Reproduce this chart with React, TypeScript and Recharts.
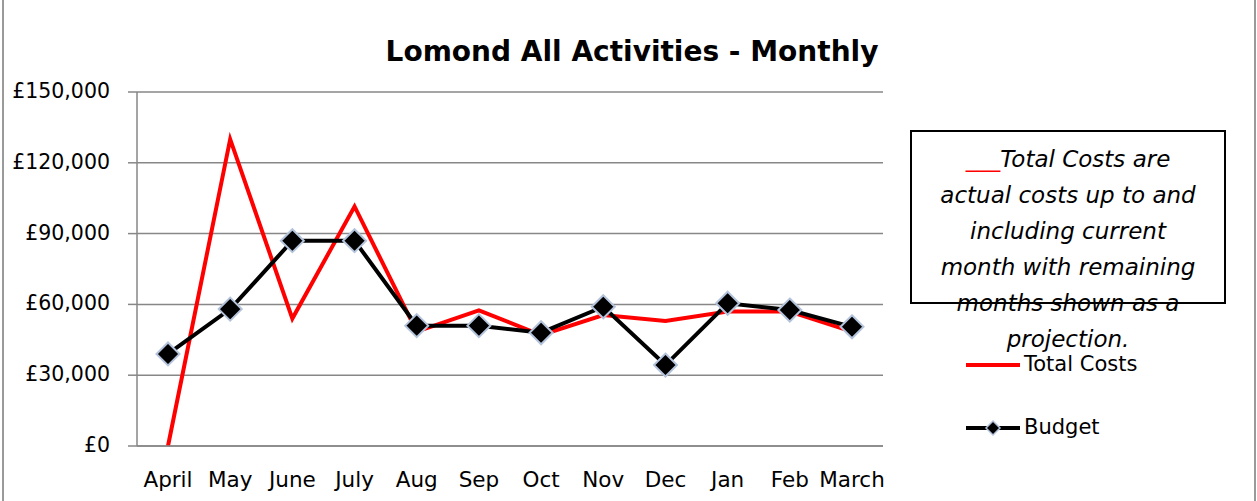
import React from 'react';
import { LineChart, Line, XAxis, YAxis, CartesianGrid } from 'recharts';

const months = ['April', 'May', 'June', 'July', 'Aug', 'Sep', 'Oct', 'Nov', 'Dec', 'Jan', 'Feb', 'March'];
const totalCosts = [0, 130000, 54000, 101500, 48500, 57500, 47000, 55500, 53000, 57000, 57000, 48500];
const budget = [39000, 58000, 87000, 87000, 51000, 51000, 48000, 59000, 34300, 60500, 57600, 50500];
const yTicks = [0, 30000, 60000, 90000, 120000, 150000];

const noteLines = [
    'actual costs up to and',
    'including current',
    'month with remaining',
    'months shown as a',
    'projection.',
];

const data = months.map((m, i) => ({ month: m, total: totalCosts[i], budget: budget[i] }));

const FONT = '"DejaVu Sans", sans-serif';
const GRID = '#878787';

const Diamond = (props: any) => {
    const { cx, cy } = props;
    if (cx == null || cy == null) return null;
    const r = 11.5;
    return (
        <polygon
            points={`${cx},${cy - r} ${cx + r},${cy} ${cx},${cy + r} ${cx - r},${cy}`}
            fill="#000"
            stroke="#b4c3dc"
            strokeWidth={2}
        />
    );
};

const XTick = ({ x, y, payload }: any) => (
    <text x={x} y={y + 27} textAnchor="middle" dominantBaseline="middle" fontSize={21.5} fontFamily={FONT} fill="#000">
        {payload.value}
    </text>
);

const YTick = ({ y, payload }: any) => (
    <text x={110} y={y} textAnchor="end" dominantBaseline="middle" fontSize={20.5} fontFamily={FONT} fill="#000">
        £{payload.value.toLocaleString('en-GB')}
    </text>
);

// legend drawn by hand, beside the plot
const SeriesKey = () => (
    <div style={{ position: 'absolute', left: 966, top: 0, fontFamily: FONT, fontSize: 21, color: '#000' }}>
        <div style={{ position: 'absolute', left: 0, top: 350, display: 'flex', alignItems: 'center', whiteSpace: 'nowrap' }}>
            <svg width={58} height={30}>
                <line x1={0} y1={15} x2={54} y2={15} stroke="#ff0000" strokeWidth={4} />
            </svg>
            <span style={{ marginTop: -2 }}>Total Costs</span>
        </div>
        <div style={{ position: 'absolute', left: 0, top: 413, display: 'flex', alignItems: 'center', whiteSpace: 'nowrap' }}>
            <svg width={58} height={30}>
                <line x1={0} y1={15} x2={54} y2={15} stroke="#000" strokeWidth={4} />
                <polygon points="27,8 34,15 27,22 20,15" fill="#000" stroke="#b4c3dc" strokeWidth={1.5} />
            </svg>
            <span style={{ marginTop: -2 }}>Budget</span>
        </div>
    </div>
);

export default function App() {
    return (
        <div style={{ position: 'absolute', left: 0, top: 0, width: 1257, height: 501, background: '#fff', overflow: 'hidden' }}>
            <div style={{ position: 'absolute', left: 2, top: 0, width: 2, height: 501, background: '#9a9a9a' }} />
            <div style={{ position: 'absolute', left: 1254, top: 0, width: 2, height: 501, background: '#9a9a9a' }} />
            <div
                style={{
                    position: 'absolute',
                    left: 332,
                    width: 600,
                    top: 35,
                    textAlign: 'center',
                    fontFamily: FONT,
                    fontWeight: 700,
                    fontSize: 28,
                    color: '#000',
                    whiteSpace: 'nowrap',
                }}
            >
                Lomond All Activities - Monthly
            </div>
            <LineChart width={1257} height={501} data={data} margin={{ top: 92, right: 374, bottom: 0, left: 0 }}>
                <CartesianGrid vertical={false} stroke={GRID} strokeWidth={1.5} />
                <XAxis
                    dataKey="month"
                    height={55}
                    padding={{ left: 31, right: 31 }}
                    axisLine={{ stroke: GRID, strokeWidth: 1.5 }}
                    tickLine={false}
                    tick={<XTick />}
                    interval={0}
                />
                <YAxis
                    width={137}
                    domain={[0, 150000]}
                    ticks={yTicks}
                    axisLine={{ stroke: GRID, strokeWidth: 1.5 }}
                    tickLine={{ stroke: GRID, strokeWidth: 1.5 }}
                    tickSize={9}
                    tick={<YTick />}
                />
                <Line dataKey="total" name="Total Costs" stroke="#ff0000" strokeWidth={4} dot={false} isAnimationActive={false} />
                <Line
                    dataKey="budget"
                    name="Budget"
                    stroke="#000"
                    strokeWidth={4}
                    dot={<Diamond />}
                    activeDot={false}
                    isAnimationActive={false}
                />
            </LineChart>
            <SeriesKey />
            <div
                style={{
                    position: 'absolute',
                    left: 910,
                    top: 130,
                    width: 316,
                    height: 174,
                    border: '2px solid #000',
                    boxSizing: 'border-box',
                }}
            />
            <div
                style={{
                    position: 'absolute',
                    left: 910,
                    top: 141,
                    width: 316,
                    textAlign: 'center',
                    fontFamily: FONT,
                    fontStyle: 'italic',
                    fontSize: 23,
                    lineHeight: '36px',
                    color: '#000',
                    whiteSpace: 'nowrap',
                }}
            >
                <div>
                    <span style={{ color: '#ff0000', fontStyle: 'normal' }}>___</span>Total Costs are
                </div>
                {noteLines.map((l) => (
                    <div key={l}>{l}</div>
                ))}
            </div>
        </div>
    );
}
